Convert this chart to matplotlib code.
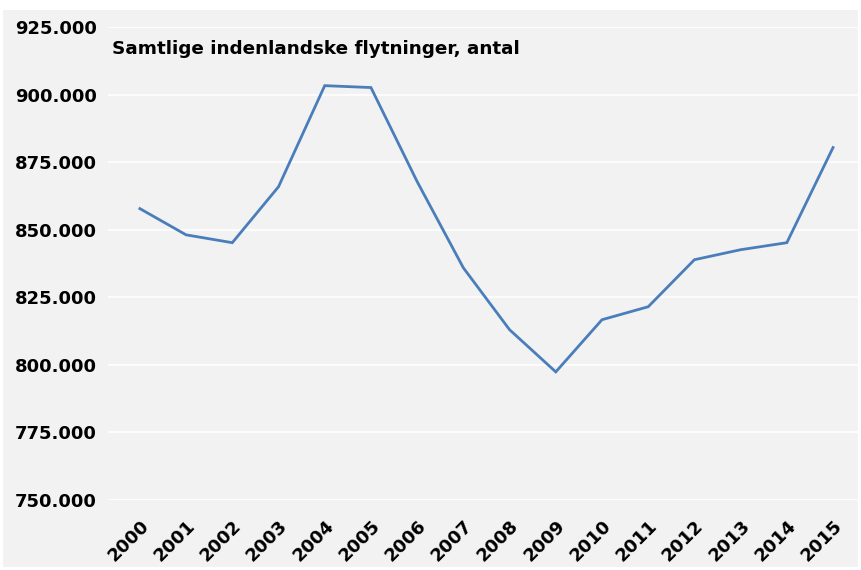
import matplotlib.pyplot as plt
import matplotlib.transforms as mtransforms
from matplotlib.patches import Rectangle
from matplotlib.ticker import FuncFormatter

# samtlige indenlandske flytninger, antal
years = ['2000', '2001', '2002', '2003', '2004', '2005', '2006', '2007',
         '2008', '2009', '2010', '2011', '2012', '2013', '2014', '2015']
moves = [857800, 848100, 845200, 865900, 903300, 902600, 867800, 835900,
         813000, 797400, 816700, 821500, 838900, 842600, 845200, 880400]

W, H = 861, 570
fig = plt.figure(figsize=(W / 100, H / 100), dpi=100)
fig.patch.set_facecolor('white')

# grey chart area
fig.patches.append(Rectangle((3 / W, 3 / H), 855 / W, 557 / H,
                             transform=fig.transFigure, facecolor='#f2f2f2',
                             edgecolor='none', zorder=-5))

ax = fig.add_axes([108 / W, (H - 500) / H, 750 / W, 473 / H])
ax.set_zorder(1)
ax.patch.set_alpha(0)

x = list(range(len(years)))
ax.plot(x, moves, color='#4a7ebb', linewidth=2.0, solid_joinstyle='miter')

ax.set_ylim(750000, 925000)
ax.set_yticks(range(750000, 925001, 25000))
ax.yaxis.set_major_formatter(FuncFormatter(lambda v, p: f'{int(v):,}'.replace(',', '.')))
ax.set_xlim(-0.69, 15.54)
ax.set_xticks(x)
ax.set_xticklabels(years, rotation=45, ha='right', va='top', rotation_mode='anchor')

shift = mtransforms.ScaledTranslation(-6 / 100, 0, fig.dpi_scale_trans)
for lbl in ax.get_xticklabels():
    lbl.set_transform(lbl.get_transform() + shift)

for lbl in ax.get_yticklabels() + ax.get_xticklabels():
    lbl.set_fontweight('bold')
    lbl.set_fontsize(13)

ax.tick_params(axis='both', length=0)
ax.tick_params(axis='y', pad=8)
ax.tick_params(axis='x', pad=12)
ax.grid(axis='y', color='white', linewidth=1.2)
ax.set_axisbelow(True)
for s in ax.spines.values():
    s.set_visible(False)

fig.text(112 / W, 1 - 49 / H, 'Samtlige indenlandske flytninger, antal',
         fontsize=13.2, fontweight='bold', va='center', ha='left', zorder=3)

fig.savefig('out.png', dpi=100)
